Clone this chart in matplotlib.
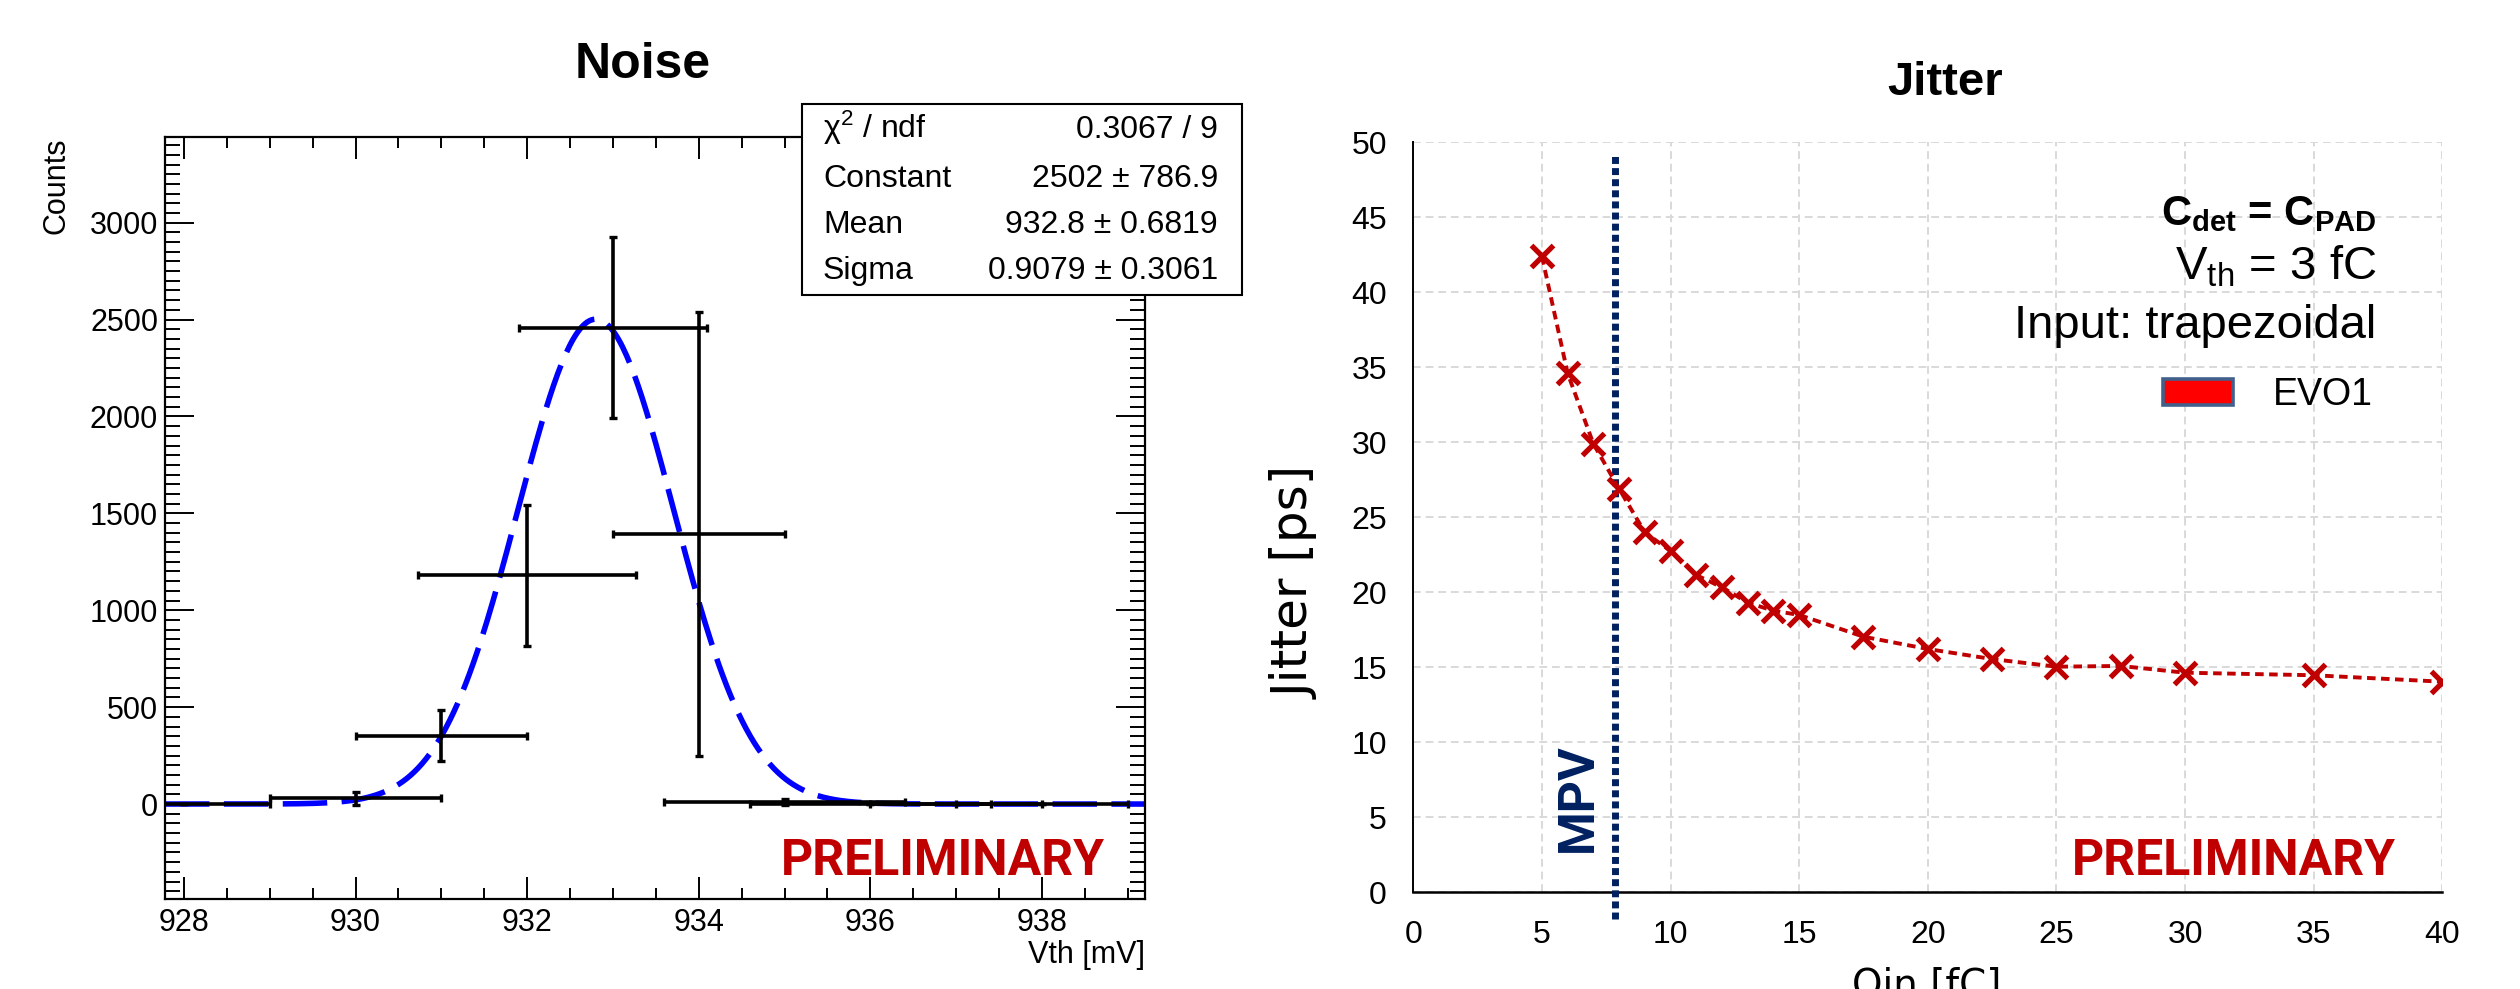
import matplotlib
matplotlib.use('Agg')
import matplotlib.pyplot as plt
import numpy as np
from matplotlib.patches import Rectangle, Patch
from matplotlib.ticker import MultipleLocator

plt.rcParams['font.family'] = ['Liberation Sans', 'DejaVu Sans']
plt.rcParams['mathtext.fontset'] = 'custom'
plt.rcParams['mathtext.rm'] = 'Liberation Sans'
plt.rcParams['mathtext.bf'] = 'Liberation Sans:bold'
plt.rcParams['mathtext.it'] = 'Liberation Sans:italic'

# noise scan points (Vth in mV, counts)
vth = [928, 930, 931, 932, 933, 934, 935, 936, 937, 938]
counts = [0, 29, 352, 1180, 2458, 1392, 10, 0, 0, 0]
vth_err = [1, 1, 1, 1.27, 1.1, 1, 1.4, 1.4, 1, 1]
counts_err = [0, 35, 132, 364, 468, 1146, 14, 0, 0, 0]

# gaussian fit result
fit_names = ['Constant', 'Mean', 'Sigma']
fit_vals = [2502, 932.8, 0.9079]
fit_errs = [786.9, 0.6819, 0.3061]
chi2, ndf = 0.3067, 9

# jitter vs input charge
qin = [5, 6, 7, 8, 9, 10, 11, 12, 13, 14, 15, 17.5, 20, 22.5, 25, 27.5, 30, 35, 40]
jitter = [42.4, 34.6, 29.9, 26.9, 24.0, 22.75, 21.15, 20.33, 19.31, 18.77, 18.49,
          17.04, 16.22, 15.55, 15.04, 15.09, 14.64, 14.47, 14.04]
mpv = 7.85

W, H = 2520, 989
fig = plt.figure(figsize=(W / 100, H / 100), dpi=100)
red = '#C00000'
navy = '#002060'

# ---------------- left: Noise ----------------
ax1 = fig.add_axes([165 / W, (H - 899) / H, 980 / W, 762 / H])
ax1.set_xlim(927.78, 939.2)
ax1.set_ylim(-490, 3442)

xf = np.linspace(927.78, 939.2, 500)
gaus = fit_vals[0] * np.exp(-0.5 * ((xf - fit_vals[1]) / fit_vals[2]) ** 2)
ax1.plot(xf, gaus, color='#0000FF', lw=4, ls=(0, (8, 2.6)), zorder=2)
ax1.errorbar(vth, counts, xerr=vth_err, yerr=counts_err, fmt='none', ecolor='black',
             elinewidth=2.6, capsize=3, capthick=2.4, zorder=3)

ax1.xaxis.set_major_locator(MultipleLocator(2))
ax1.xaxis.set_minor_locator(MultipleLocator(0.5))
ax1.yaxis.set_major_locator(MultipleLocator(500))
ax1.yaxis.set_minor_locator(MultipleLocator(50))
ax1.tick_params(which='both', direction='in', top=True, right=True, width=1.4, labelsize=22)
ax1.tick_params(axis='x', which='major', length=16, pad=6.5)
ax1.tick_params(axis='x', which='minor', length=8)
ax1.tick_params(axis='y', which='major', length=21, pad=5)
ax1.tick_params(axis='y', which='minor', length=10.5)
for s in ax1.spines.values():
    s.set_linewidth(1.6)

ax1.text(0.959, 0.0315, 'PRELIMINARY', transform=ax1.transAxes, ha='right', va='baseline',
         color=red, fontsize=36, fontweight='bold', family=['Roboto', 'DejaVu Sans'])

fig.text(643 / W, 1 - 78 / H, 'Noise', ha='center', va='baseline', fontsize=36, fontweight='bold')
fig.text(56 / W, 1 - 137 / H, 'Counts', rotation=90, ha='center', va='top', fontsize=22)
fig.text(1145 / W, 1 - 940 / H, 'Vth [mV]', ha='right', va='top', fontsize=22)

# stats box
fig.patches.append(Rectangle((802 / W, 1 - 295 / H), 440 / W, 191 / H, transform=fig.transFigure,
                             facecolor='white', edgecolor='black', lw=1.5, zorder=5))
rows = [('\u03c7$^{2}$ / ndf', f'{chi2} / {ndf}')]
for n, v, e in zip(fit_names, fit_vals, fit_errs):
    rows.append((n, f'{v} \u00b1 {e}'))
for (lab, val), yb in zip(rows, [138, 187, 233, 279]):
    fig.text(823 / W, 1 - yb / H, lab, ha='left', va='baseline', fontsize=23, zorder=6)
    fig.text(1218 / W, 1 - yb / H, val, ha='right', va='baseline', fontsize=23, zorder=6)

# ---------------- right: Jitter ----------------
ax2 = fig.add_axes([1413.3 / W, (H - 892.3) / H, 1029 / W, 750 / H])
ax2.set_xlim(0, 40)
ax2.set_ylim(0, 50)
ax2.xaxis.set_major_locator(MultipleLocator(5))
ax2.yaxis.set_major_locator(MultipleLocator(5))
ax2.grid(True, color='#D9D9D9', lw=1.4, ls=(0, (4, 2.5)))
ax2.set_axisbelow(True)
ax2.tick_params(length=0, labelsize=23)
ax2.tick_params(axis='x', pad=20)
ax2.tick_params(axis='y', pad=19)
ax2.spines['top'].set_visible(False)
ax2.spines['right'].set_visible(False)
ax2.spines['left'].set_linewidth(1.4)
ax2.spines['bottom'].set_linewidth(1.8)

ax2.axvline(mpv, ymin=-0.036, ymax=0.984, clip_on=False, color=navy, lw=5, ls=(0, (1, 0.6)), zorder=3)
ax2.plot(qin, jitter, color=red, lw=2.8, ls=(0, (2.2, 1.4)), marker='x', ms=16, mew=3.8, zorder=4)

ax2.text(6.4, 6.3, 'MPV', rotation=90, ha='center', va='center', color=navy, fontsize=36,
         fontweight='bold', family=['Roboto', 'DejaVu Sans'])
ax2.text(0.9547, 0.023, 'PRELIMINARY', transform=ax2.transAxes, ha='right', va='baseline',
         color=red, fontsize=36, fontweight='bold', family=['Roboto', 'DejaVu Sans'])

ax2.text(37.43, 44.49, r'C$_{\mathbf{det}}$ = C$_{\mathbf{PAD}}$', ha='right', va='baseline',
         fontsize=30, fontweight='bold')
ax2.text(37.43, 40.82, r'V$_{\mathrm{th}}$ = 3 fC', ha='right', va='baseline', fontsize=34)
ax2.text(37.43, 36.95, 'Input: trapezoidal', ha='right', va='baseline', fontsize=34)

leg = ax2.legend(handles=[Patch(facecolor='#FF0000', edgecolor='#41608C', lw=2.6, label='EVO1')],
                 loc='center left', bbox_to_anchor=(0.7286, 0.663), frameon=False, fontsize=27,
                 handlelength=1.87, handleheight=0.7, handletextpad=1.07, borderpad=0, borderaxespad=0)

fig.text(1945 / W, 1 - 95 / H, 'Jitter', ha='center', va='baseline', fontsize=34, fontweight='bold')
fig.text(1296 / W, 1 - 583 / H, 'Jitter [ps]', rotation=90, ha='center', va='center', fontsize=36,
         family=['DejaVu Sans'])
fig.text(1927 / W, 1 - 967 / H, 'Qin [fC]', ha='center', va='top', fontsize=28, family=['DejaVu Sans'])

fig.savefig('out.png', dpi=100)
